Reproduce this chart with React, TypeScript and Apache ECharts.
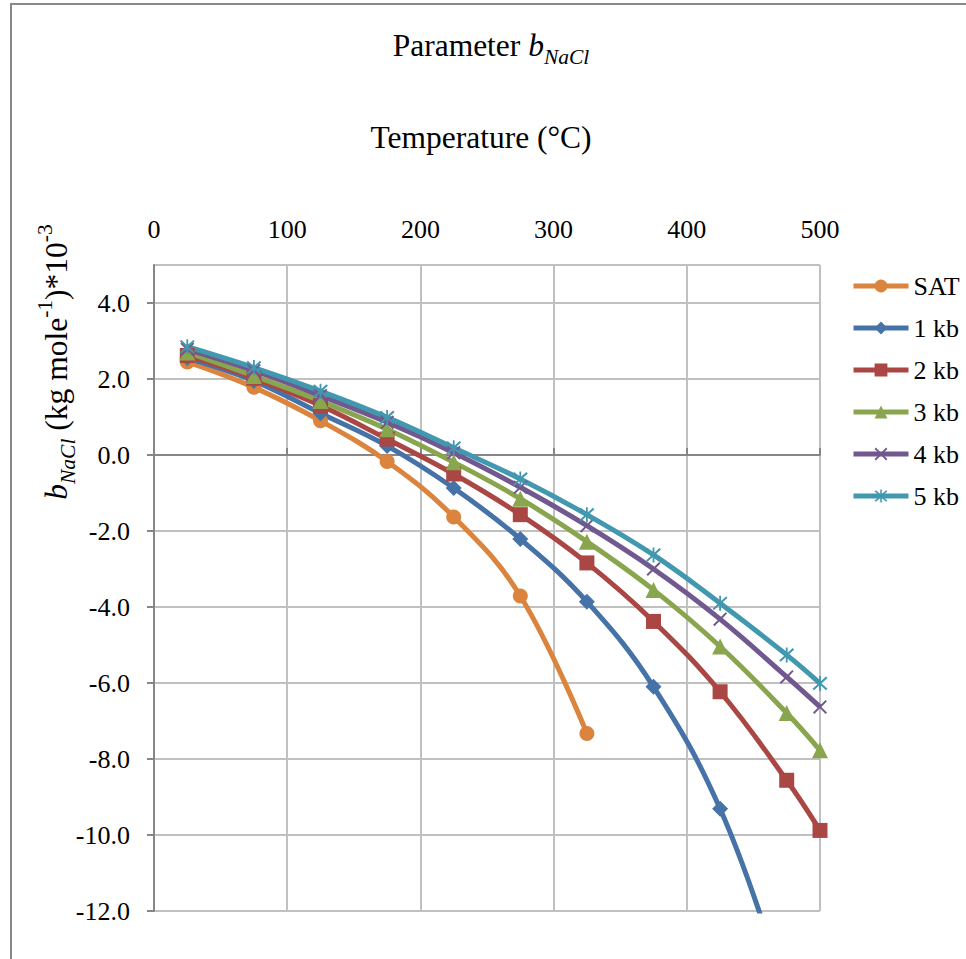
import React, { useEffect, useRef } from 'react';
import * as echarts from 'echarts';

// Temperatures (°C) at which b_NaCl was evaluated
const temperatures = [25, 75, 125, 175, 225, 275, 325, 375, 425, 475, 500];

// b_NaCl (kg/mol) × 10^-3 along the saturation curve and the isobars
const satValues = [2.45, 1.78, 0.9, -0.17, -1.63, -3.71, -7.33];
const kb1Values = [2.55, 1.95, 1.1, 0.24, -0.87, -2.21, -3.86, -6.1, -9.31, -14.0, -15.9];
const kb2Values = [2.62, 2.02, 1.3, 0.42, -0.5, -1.57, -2.84, -4.38, -6.23, -8.56, -9.88];
const kb3Values = [2.7, 2.08, 1.42, 0.68, -0.19, -1.15, -2.28, -3.55, -5.04, -6.79, -7.77];
const kb4Values = [2.78, 2.22, 1.56, 0.86, 0.06, -0.85, -1.86, -3.0, -4.32, -5.84, -6.63];
const kb5Values = [2.85, 2.3, 1.68, 0.99, 0.19, -0.63, -1.57, -2.63, -3.9, -5.26, -6.01];

const seriesNames = ['SAT', '1 kb', '2 kb', '3 kb', '4 kb', '5 kb'];
const seriesValues = [satValues, kb1Values, kb2Values, kb3Values, kb4Values, kb5Values];

// Axis ranges
const xMin = 0;
const xMax = 500;
const xStep = 100;
const yMin = -12;
const yMax = 5;
const yStep = 2;

const colors = ['#DB843D', '#4572A7', '#AA4643', '#89A54E', '#71588F', '#4198AF'];

const crossMarker = 'path://M0,1 L1,0 L5,4 L9,0 L10,1 L6,5 L10,9 L9,10 L5,6 L1,10 L0,9 L4,5 Z';
const starMarker =
  'path://M0,1 L1,0 L5,4 L9,0 L10,1 L6,5 L10,9 L9,10 L5,6 L1,10 L0,9 L4,5 Z M4.4,-0.5 L5.6,-0.5 L5.6,10.5 L4.4,10.5 Z';
const symbols = ['circle', 'diamond', 'rect', 'triangle', crossMarker, starMarker];
const symbolSizes = [15, 16, 15, 16, 14, 15];

const FONT = 'Liberation Serif';
const MAIN = 31.5;
const SMALL = 21.5;
const LH = 50;
const LABEL = 26;

const labelRich = {
  t: { fontFamily: FONT, fontSize: LABEL, color: '#000', lineHeight: LABEL },
};

export default function App() {
  const ref = useRef<HTMLDivElement>(null);

  useEffect(() => {
    if (!ref.current) return;
    const chart = echarts.init(ref.current, undefined, { renderer: 'svg' });

    const series = seriesNames.map((name, i) => ({
      name,
      type: 'line',
      data: seriesValues[i].map((v, j) => [temperatures[j], v]),
      smooth: 0.4,
      clip: true,
      symbol: symbols[i],
      symbolSize: symbolSizes[i],
      showSymbol: true,
      showAllSymbol: true,
      lineStyle: { color: colors[i], width: 5 },
      itemStyle: { color: colors[i], borderWidth: 0 },
      emphasis: { disabled: true },
    }));

    const rich = {
      n: { fontSize: MAIN, fontFamily: FONT, color: '#000', lineHeight: LH },
      i: { fontSize: MAIN, fontFamily: FONT, fontStyle: 'italic', color: '#000', lineHeight: LH },
      sub: {
        fontSize: SMALL,
        fontFamily: FONT,
        fontStyle: 'italic',
        color: '#000',
        lineHeight: LH,
        padding: [24, 0, 0, 0],
      },
      sup: {
        fontSize: SMALL,
        fontFamily: FONT,
        color: '#000',
        lineHeight: LH,
        padding: [0, 0, 22, 0],
      },
    };

    chart.setOption({
      animation: false,
      backgroundColor: '#ffffff',
      textStyle: { fontFamily: FONT },
      grid: {
        left: 154,
        right: 146,
        top: 265,
        bottom: 48,
        containLabel: false,
        outerBoundsMode: 'none',
      },
      legend: {
        orient: 'vertical',
        left: 851,
        top: 273,
        padding: 0,
        itemWidth: 55,
        itemHeight: 16,
        itemGap: 16,
        data: seriesNames,
        lineStyle: { width: 5 },
        formatter: (name: string) => `{t|${name}}`,
        textStyle: { fontFamily: FONT, fontSize: LABEL, color: '#000', lineHeight: LABEL, rich: labelRich },
        selectedMode: false,
      },
      xAxis: {
        type: 'value',
        position: 'top',
        min: xMin,
        max: xMax,
        interval: xStep,
        axisLine: { show: true, lineStyle: { color: '#868686', width: 2 } },
        axisTick: { show: true, inside: false, length: 7, lineStyle: { color: '#868686', width: 2 } },
        axisLabel: {
          fontFamily: FONT,
          fontSize: LABEL,
          color: '#000',
          margin: 23,
          formatter: (v: number) => `{t|${v}}`,
          rich: labelRich,
        },
        splitLine: { show: true, lineStyle: { color: '#C0C0C0', width: 2 } },
      },
      yAxis: {
        type: 'value',
        min: yMin,
        max: yMax,
        interval: yStep,
        axisLine: { show: true, lineStyle: { color: '#868686', width: 2 } },
        axisTick: { show: true, inside: false, length: 7, lineStyle: { color: '#868686', width: 2 } },
        axisLabel: {
          fontFamily: FONT,
          fontSize: LABEL,
          color: '#000',
          margin: 24,
          showMaxLabel: false,
          formatter: (v: number) => (v > yMax - yStep / 2 ? '' : `{t|${v.toFixed(1)}}`),
          rich: labelRich,
        },
        splitLine: { show: true, lineStyle: { color: '#C0C0C0', width: 2 } },
      },
      graphic: [
        {
          type: 'rect',
          shape: { x: 11, y: 4, width: 1200, height: 1200 },
          style: { fill: 'none', stroke: '#898989', lineWidth: 2 },
          silent: true,
          z: -1,
        },
        {
          type: 'text',
          x: 491,
          y: 45,
          style: {
            text: '{n|Parameter }{i|b}{sub|NaCl}',
            rich,
            align: 'center',
            verticalAlign: 'middle',
          },
        },
        {
          type: 'text',
          x: 481,
          y: 137,
          style: {
            text: '{n|Temperature (°C)}',
            rich,
            align: 'center',
            verticalAlign: 'middle',
          },
        },
        {
          type: 'text',
          x: 56,
          y: 362,
          rotation: Math.PI / 2,
          style: {
            text: '{i|b}{sub|NaCl}{n| (kg mole}{sup|-1}{n|)*10}{sup|-3}',
            rich,
            align: 'center',
            verticalAlign: 'middle',
          },
        },
      ],
      series,
    });

    return () => {
      chart.dispose();
    };
  }, []);

  return (
    <div
      ref={ref}
      style={{ position: 'fixed', left: 0, top: 0, width: 966, height: 959, background: '#fff' }}
    />
  );
}
